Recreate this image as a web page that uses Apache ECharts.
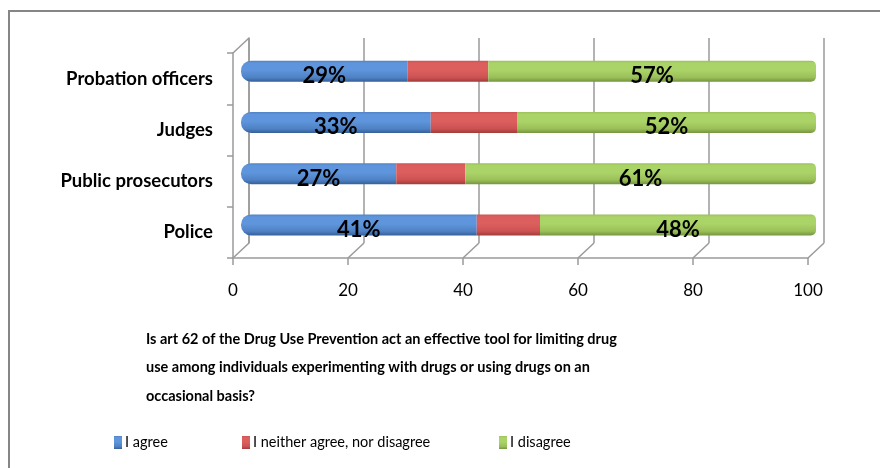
<!DOCTYPE html>
<html><head><meta charset="utf-8">
<script src="https://cdn.jsdelivr.net/npm/echarts@6/dist/echarts.min.js"></script>
<style>html,body{margin:0;padding:0;background:#fff}#c{width:880px;height:468px}</style>
</head><body><div id="c"></div>
<script>
const categories = ['Police', 'Public prosecutors', 'Judges', 'Probation officers'];
const agree = [41, 27, 33, 29];
const neutral = [11, 12, 15, 14];
const disagree = [48, 61, 52, 57];
const seriesNames = ['I agree', 'I neither agree, nor disagree', 'I disagree'];
const xTicks = [0, 20, 40, 60, 80, 100];
const titleText = 'Is art 62 of the Drug Use Prevention act an effective tool for limiting drug\nuse among individuals experimenting with drugs or using drugs on an\noccasional basis?';

const FRONT = {left: 233, top: 53, width: 575, height: 205};
const DX = 16, DY = -15;
const BACK = {left: FRONT.left + DX, top: FRONT.top + DY, width: 575, height: 205};
const MID = {left: FRONT.left + DX / 2, top: FRONT.top + DY / 2, width: 575, height: 205};
const GRID_COLOR = '#9a9a9a';

function grad(light, base, dark) {
  return new echarts.graphic.LinearGradient(0, 0, 0, 1, [
    {offset: 0, color: base},
    {offset: 0.12, color: light},
    {offset: 0.45, color: light},
    {offset: 0.8, color: base},
    {offset: 1, color: dark}
  ]);
}
const colors = [
  grad('#5f95dc', '#4f82c4', '#36609a'),
  grad('#dc5f5e', '#cc5251', '#a03d3c'),
  grad('#abd468', '#9bbf59', '#75963f')
];
const legendColors = ['#4f81bd', '#c0504d', '#9bbb59'];

const labelStyle = {
  show: true, position: 'inside', offset: [0, 5],
  formatter: p => p.value + '%',
  fontFamily: 'Lato', fontWeight: 'bold', fontSize: 22, color: '#000'
};

const chart = echarts.init(document.getElementById('c'), null, {renderer: 'canvas'});

const diag = [];
xTicks.forEach((t, i) => {
  const x = FRONT.left + FRONT.width * i / (xTicks.length - 1);
  const y = FRONT.top + FRONT.height;
  diag.push({type: 'line', shape: {x1: x, y1: y, x2: x + DX, y2: y + DY}, style: {stroke: GRID_COLOR, lineWidth: 1.5}, silent: true});
});
diag.push({type: 'line', shape: {x1: FRONT.left, y1: FRONT.top, x2: FRONT.left + DX, y2: FRONT.top + DY}, style: {stroke: GRID_COLOR, lineWidth: 1.5}, silent: true});
diag.push({type: 'rect', shape: {x: 9, y: 11, width: 900, height: 500}, style: {fill: 'none', stroke: '#868686', lineWidth: 2}, silent: true, z: -1});

chart.setOption({
  backgroundColor: '#ffffff',
  animation: false,
  title: {
    text: titleText, left: 141, top: 320,
    textStyle: {fontFamily: 'Lato', fontWeight: 'bold', fontSize: 14.5, lineHeight: 28.5, color: '#000'}
  },
  legend: seriesNames.map((n, i) => ({
    data: [n], left: [109, 237, 494][i], top: 430,
    itemWidth: 8, itemHeight: 13, itemGap: 0,
    icon: 'rect',
    textStyle: {fontFamily: 'Lato', fontSize: 14.5, color: '#000', padding: [0, 0, 0, -2]}
  })),
  grid: [
    Object.assign({containLabel: false}, FRONT),
    Object.assign({containLabel: false}, BACK),
    Object.assign({containLabel: false}, MID)
  ],
  xAxis: [
    {gridIndex: 0, type: 'value', min: 0, max: 100, interval: 20,
      axisLine: {show: true, lineStyle: {color: GRID_COLOR, width: 1.5}},
      axisTick: {show: true, length: 7, lineStyle: {color: GRID_COLOR, width: 1.5}},
      axisLabel: {margin: 24, fontFamily: 'Lato', fontSize: 17, color: '#000'},
      splitLine: {show: false}},
    {gridIndex: 1, type: 'value', min: 0, max: 100, interval: 20,
      axisLine: {show: false}, axisTick: {show: false}, axisLabel: {show: false},
      splitLine: {show: true, lineStyle: {color: GRID_COLOR, width: 1.5}}},
    {gridIndex: 2, type: 'value', min: 0, max: 100, interval: 20, show: false}
  ],
  yAxis: [
    {gridIndex: 0, type: 'category', data: categories,
      axisLine: {show: true, lineStyle: {color: GRID_COLOR, width: 1.5}},
      axisTick: {show: true, length: 6, lineStyle: {color: GRID_COLOR, width: 1.5}},
      axisLabel: {margin: 20, fontFamily: 'Lato', fontWeight: 'bold', fontSize: 18.5, color: '#000'}},
    {gridIndex: 1, type: 'category', data: categories,
      axisLine: {show: true, lineStyle: {color: GRID_COLOR, width: 1.5}},
      axisTick: {show: false}, axisLabel: {show: false}, splitLine: {show: false}},
    {gridIndex: 2, type: 'category', data: categories, show: false}
  ],
  series: [
    {name: seriesNames[0], type: 'bar', stack: 's', xAxisIndex: 2, yAxisIndex: 2, barWidth: 21,
      data: agree, color: legendColors[0],
      itemStyle: {color: colors[0], borderRadius: [10, 0, 0, 10]}, label: labelStyle},
    {name: seriesNames[1], type: 'bar', stack: 's', xAxisIndex: 2, yAxisIndex: 2, barWidth: 21,
      data: neutral, color: legendColors[1],
      itemStyle: {color: colors[1]}},
    {name: seriesNames[2], type: 'bar', stack: 's', xAxisIndex: 2, yAxisIndex: 2, barWidth: 21,
      data: disagree, color: legendColors[2],
      itemStyle: {color: colors[2], borderRadius: [0, 5, 5, 0]}, label: labelStyle}
  ],
  graphic: diag
});
</script></body></html>
